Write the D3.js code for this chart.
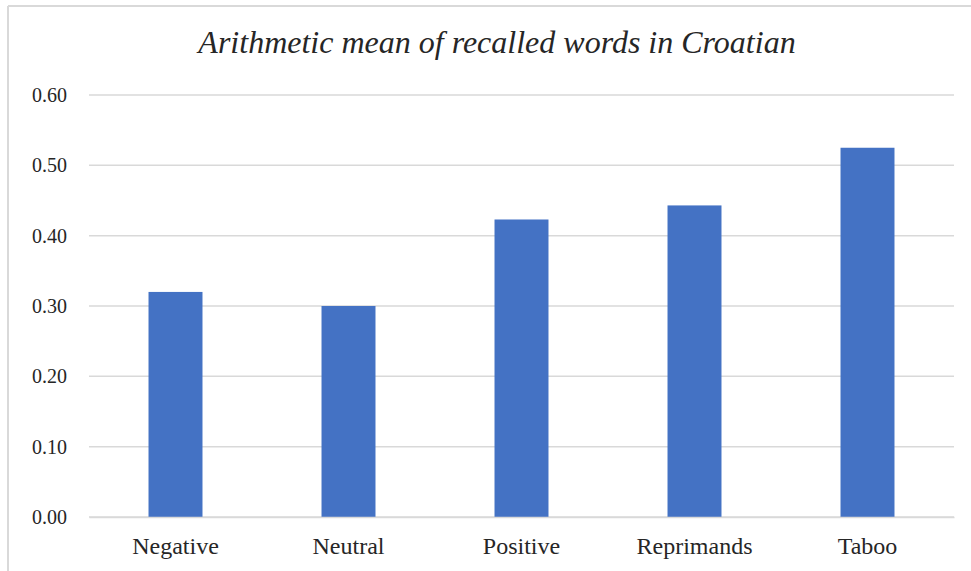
<!DOCTYPE html>
<html>
<head>
<meta charset="utf-8">
<script src="https://cdn.jsdelivr.net/npm/d3@7"></script>
<style>
  body { margin: 0; background: #fff; }
  text { font-family: "Liberation Serif", "Times New Roman", serif; fill: #262626; }
</style>
</head>
<body>
<div id="chart"></div>
<script>
var categories = ["Negative", "Neutral", "Positive", "Reprimands", "Taboo"];
var means = [0.32, 0.30, 0.423, 0.443, 0.525];
var yTicks = [0, 0.1, 0.2, 0.3, 0.4, 0.5, 0.6];
var title = "Arithmetic mean of recalled words in Croatian";

var width = 971, height = 571;
var plotLeft = 89, plotRight = 954, plotTop = 95, plotBottom = 517;

var svg = d3.select("#chart").append("svg")
    .attr("width", width)
    .attr("height", height);

// chart frame (only top and left edges show in the picture)
svg.append("line")
    .attr("x1", 8).attr("x2", width).attr("y1", 6).attr("y2", 6)
    .attr("stroke", "#d9d9d9").attr("stroke-width", 2);
svg.append("line")
    .attr("x1", 8).attr("x2", 8).attr("y1", 6).attr("y2", height)
    .attr("stroke", "#d9d9d9").attr("stroke-width", 2);

var x = d3.scaleBand().domain(categories).range([plotLeft, plotRight]).paddingInner(0.688).paddingOuter(0.344);
var y = d3.scaleLinear().domain([0, 0.6]).range([plotBottom, plotTop]);

// gridlines
svg.append("g")
    .attr("class", "grid")
    .selectAll("line")
    .data(yTicks)
    .enter().append("line")
    .attr("x1", plotLeft).attr("x2", plotRight)
    .attr("y1", function(d) { return y(d); })
    .attr("y2", function(d) { return y(d); })
    .attr("stroke", "#d9d9d9")
    .attr("stroke-width", 1.5);

var yAxis = svg.append("g")
    .attr("transform", "translate(" + plotLeft + ",0)")
    .call(d3.axisLeft(y).tickValues(yTicks).tickFormat(d3.format(".2f")).tickSize(0).tickPadding(22));
yAxis.select(".domain").remove();
yAxis.selectAll("text")
    .style("font-size", "20px")
    .attr("fill", "#262626");

svg.selectAll("rect.bar")
    .data(means)
    .enter().append("rect")
    .attr("class", "bar")
    .attr("x", function(d, i) { return x(categories[i]); })
    .attr("width", x.bandwidth())
    .attr("y", function(d) { return y(d); })
    .attr("height", function(d) { return y(0) - y(d); })
    .attr("fill", "#4472c4");

var xAxis = svg.append("g")
    .attr("transform", "translate(0," + plotBottom + ")")
    .call(d3.axisBottom(x).tickSize(0).tickPadding(20));
xAxis.select(".domain").attr("stroke", "#d9d9d9").attr("stroke-width", 1.5);
xAxis.selectAll("text")
    .style("font-size", "24px")
    .attr("fill", "#262626");

svg.append("text")
    .attr("x", 497)
    .attr("y", 53)
    .attr("text-anchor", "middle")
    .style("font-size", "32px")
    .style("font-style", "italic")
    .text(title);
</script>
</body>
</html>
